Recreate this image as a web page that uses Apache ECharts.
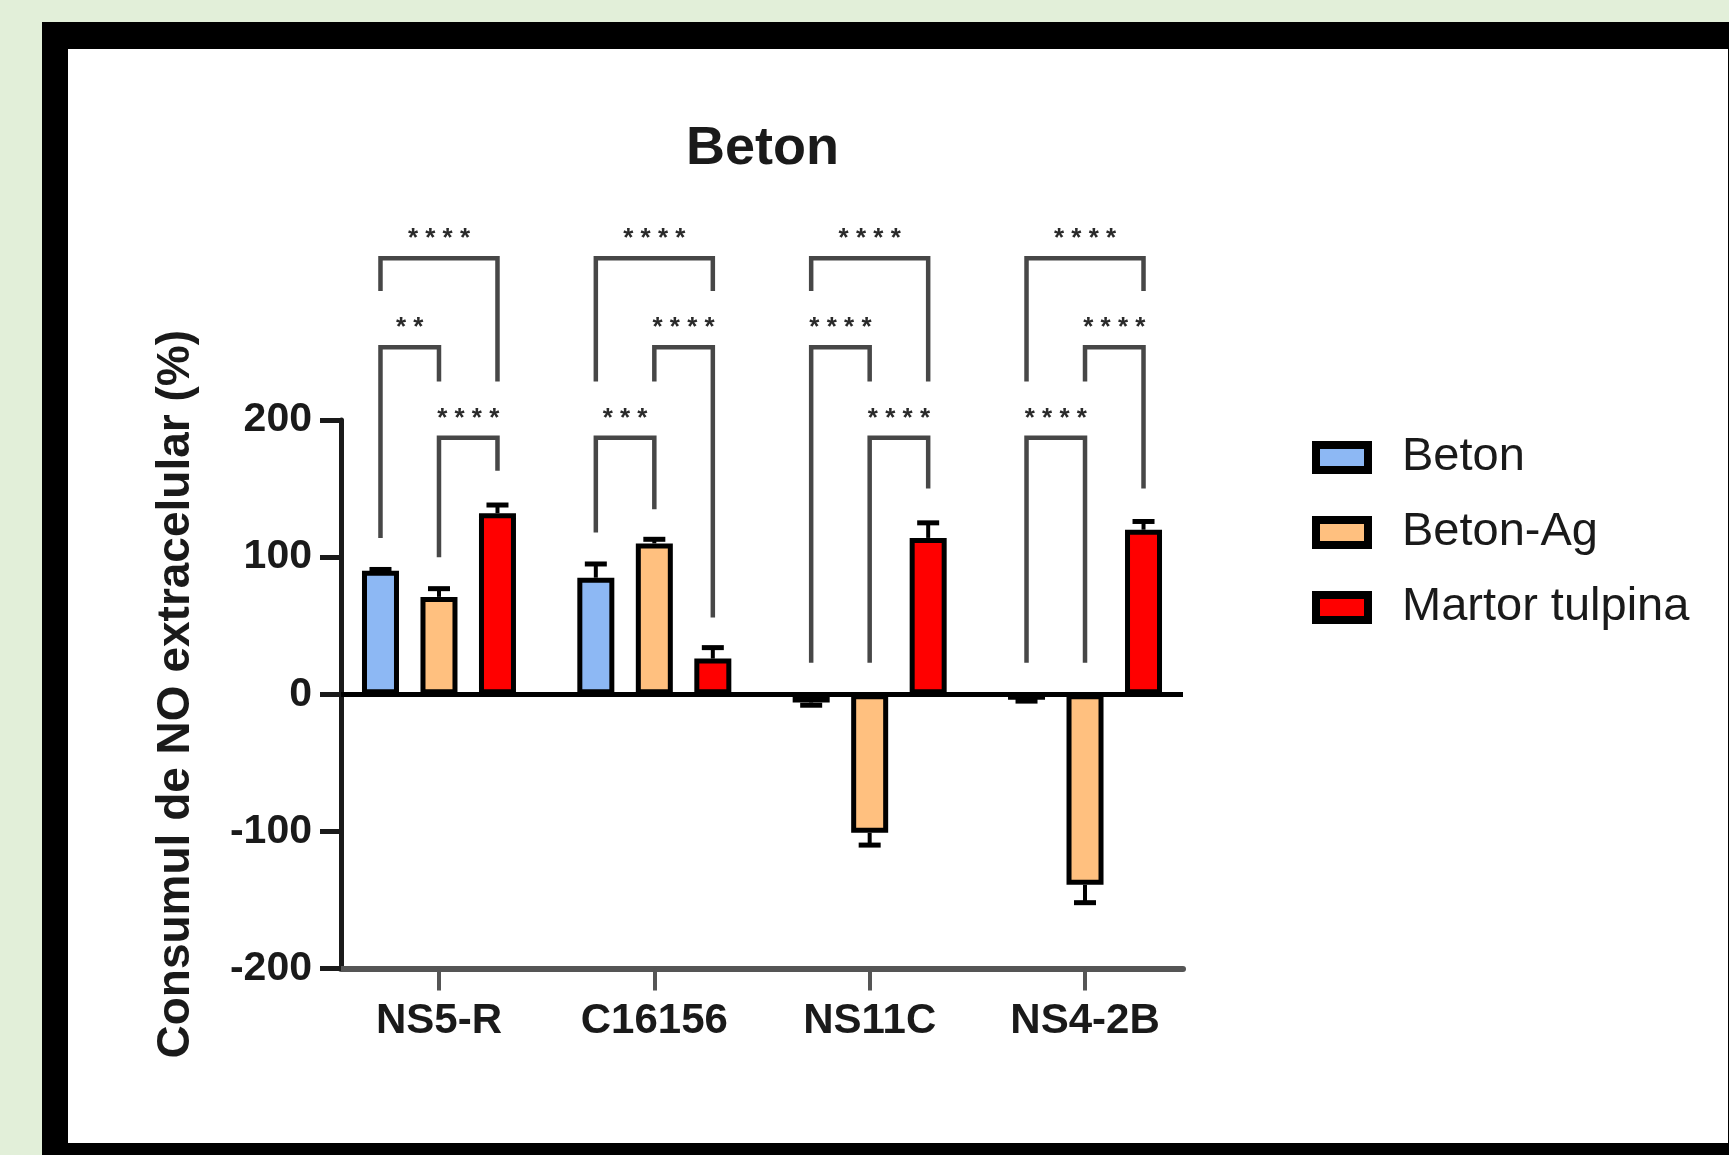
<!DOCTYPE html>
<html>
<head>
<meta charset="utf-8">
<script src="https://cdn.jsdelivr.net/npm/echarts@6/dist/echarts.min.js"></script>
<style>
  html, body { margin: 0; padding: 0; width: 1729px; height: 1155px; overflow: hidden; background: #E2EFD9; }
  #frame { position: absolute; left: 42px; top: 22px; width: 1687px; height: 1133px; background: #000; }
  #paper { position: absolute; left: 68px; top: 49px; width: 1660px; height: 1094px; background: #fff; }
  #chart { position: absolute; left: 0; top: 0; width: 1729px; height: 1155px; }
</style>
</head>
<body>
<div id="frame"></div>
<div id="paper"></div>
<div id="chart"></div>
<script>
// ---------------- data ----------------
const categories = ['NS5-R', 'C16156', 'NS11C', 'NS4-2B'];
const seriesNames = ['Beton', 'Beton-Ag', 'Martor tulpina'];
const betonMean   = [90, 85, -6, -4];
const betonSD     = [1, 10, 2, 1];
const betonAgMean = [71, 110, -101, -139];
const betonAgSD   = [6, 3, 9, 13];
const martorMean  = [132, 26, 114, 120];
const martorSD    = [6, 8, 11, 6];
const yTicks = [-200, -100, 0, 100, 200];
const xTicks = [0, 1, 2, 3];
// significance brackets: [category, fromGroup, toGroup, bracketLevel, fromLegEnd, toLegEnd, label]
const brackets = [
  [0, 0, 2, 318, 294, 228, '****'],
  [0, 0, 1, 253, 114, 228, '**'],
  [0, 1, 2, 187, 100, 163, '****'],
  [1, 0, 2, 318, 228, 294, '****'],
  [1, 1, 2, 253, 228, 56, '****'],
  [1, 0, 1, 187, 118, 135, '***'],
  [2, 0, 2, 318, 294, 228, '****'],
  [2, 0, 1, 253, 23, 228, '****'],
  [2, 1, 2, 187, 23, 150, '****'],
  [3, 0, 2, 318, 228, 294, '****'],
  [3, 1, 2, 253, 228, 150, '****'],
  [3, 0, 1, 187, 23, 23, '****']
];

// ---------------- styles ----------------
const COLORS = ['#8DB8F4', '#FFC07F', '#FF0000'];
const BAR_W = 37;
const SLOT = 58.5;          // centre-to-centre distance of bars in a group (px)
const BAR_GAP = ((SLOT - BAR_W) / BAR_W * 100).toFixed(1) + '%';
const CAP = 22;
const FONT = 'Liberation Sans';

const means = [betonMean, betonAgMean, martorMean];
const sds = [betonSD, betonAgSD, martorSD];

function barSeries(g) {
  const s = {
    type: 'bar',
    name: seriesNames[g],
    data: means[g].map((v, i) => [i, v]),
    barWidth: BAR_W,
    barGap: BAR_GAP,
    z: 3,
    itemStyle: { color: COLORS[g], borderColor: '#000', borderWidth: 5 }
  };
  if (g === 0) {
    s.markLine = {
      silent: true, symbol: 'none', label: { show: false },
      lineStyle: { color: '#000', width: 5, type: 'solid' },
      data: [{ yAxis: 0 }], z: 4
    };
  }
  return s;
}

function errSeries(g) {
  return {
    type: 'custom',
    name: seriesNames[g] + ' SD',
    silent: true,
    z: 5,
    clip: false,
    data: means[g].map((m, i) => [i, m, sds[g][i]]),
    renderItem: function (params, api) {
      const i = api.value(0), m = api.value(1), s = api.value(2);
      const dir = m >= 0 ? 1 : -1;
      const p0 = api.coord([i, m]);
      const p1 = api.coord([i, m + dir * s]);
      const x = p0[0] + (g - 1) * SLOT;
      return {
        type: 'group',
        children: [
          { type: 'line', shape: { x1: x, y1: p0[1], x2: x, y2: p1[1] }, style: { stroke: '#000', lineWidth: 4 } },
          { type: 'line', shape: { x1: x - CAP / 2, y1: p1[1], x2: x + CAP / 2, y2: p1[1] }, style: { stroke: '#000', lineWidth: 5 } }
        ]
      };
    }
  };
}

const bracketSeries = {
  type: 'custom',
  name: 'significance',
  silent: true,
  z: 6,
  clip: false,
  data: brackets.map(b => b.slice(0, 6)),
  renderItem: function (params, api) {
    const b = brackets[params.dataIndex];
    const cx = api.coord([b[0], 0])[0];
    const xl = cx + (b[1] - 1) * SLOT;
    const xr = cx + (b[2] - 1) * SLOT;
    const yTop = api.coord([b[0], b[3]])[1];
    const yL = api.coord([b[0], b[4]])[1];
    const yR = api.coord([b[0], b[5]])[1];
    return {
      type: 'group',
      children: [
        { type: 'polyline', shape: { points: [[xl, yL], [xl, yTop], [xr, yTop], [xr, yR]] },
          style: { stroke: '#474747', lineWidth: 4.5, fill: null, lineJoin: 'miter' } },
        { type: 'text', x: (xl + xr) / 2, y: yTop - 19,
          style: { text: b[6].split('').join(' '), fill: '#2a2a2a', fontSize: 26, fontWeight: 'bold',
                   fontFamily: FONT, align: 'center', verticalAlign: 'middle' } }
      ]
    };
  }
};

const chart = echarts.init(document.getElementById('chart'), null, { renderer: 'canvas' });
chart.setOption({
  backgroundColor: 'transparent',
  animation: false,
  textStyle: { fontFamily: FONT },
  title: {
    text: 'Beton', left: 686, top: 122, padding: 0,
    textStyle: { fontSize: 54, fontWeight: 'bold', color: '#1a1a1a', fontFamily: FONT }
  },
  legend: {
    orient: 'vertical', left: 1312, top: 434, padding: 0,
    itemWidth: 52, itemHeight: 25, itemGap: 28,
    icon: 'rect',
    data: seriesNames,
    itemStyle: { borderColor: '#000', borderWidth: 8 },
    textStyle: { fontSize: 47, lineHeight: 46, color: '#1a1a1a', fontFamily: FONT, padding: [0, 0, 0, 29] }
  },
  grid: { left: 341, right: 546, top: 420, bottom: 186.5, containLabel: false },
  xAxis: {
    type: 'value', min: -0.455, max: 3.455,
    axisLine: { show: true, onZero: false, lineStyle: { color: '#555', width: 6 } },
    axisTick: { show: true, customValues: xTicks, length: 22, lineStyle: { color: '#555', width: 4 } },
    axisLabel: {
      customValues: xTicks, formatter: v => categories[Math.round(v)],
      margin: 32, fontSize: 42, fontWeight: 'bold', color: '#1a1a1a', fontFamily: FONT
    },
    splitLine: { show: false }
  },
  yAxis: {
    type: 'value', min: -200, max: 200, interval: 100,
    axisLine: { show: true, onZero: false, lineStyle: { color: '#1a1a1a', width: 5 } },
    axisTick: { show: true, customValues: yTicks, length: 21, lineStyle: { color: '#1a1a1a', width: 5 } },
    axisLabel: { customValues: yTicks, margin: 29, fontSize: 41, fontWeight: 'bold', color: '#1a1a1a', fontFamily: FONT },
    splitLine: { show: false },
    name: 'Consumul de NO extracelular (%)',
    nameLocation: 'middle', nameGap: 165, nameRotate: 90,
    nameTextStyle: { fontSize: 46, fontWeight: 'bold', color: '#1a1a1a', fontFamily: FONT, verticalAlign: 'middle' }
  },
  series: [
    barSeries(0), barSeries(1), barSeries(2),
    errSeries(0), errSeries(1), errSeries(2),
    bracketSeries
  ]
});
</script>
</body>
</html>
